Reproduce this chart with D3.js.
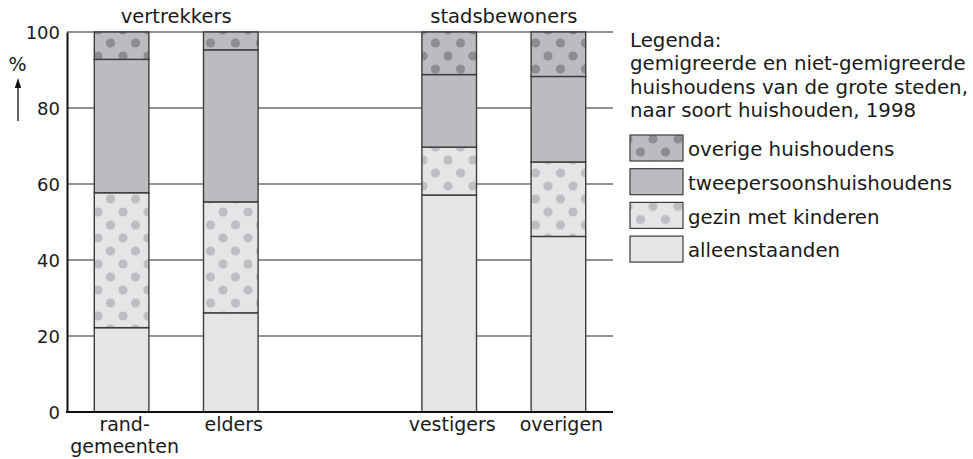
<!DOCTYPE html>
<html>
<head>
<meta charset="utf-8">
<script src="https://cdn.jsdelivr.net/npm/d3@7"></script>
<style>
  body { margin: 0; background: #fff; }
  svg { display: block; font-family: "DejaVu Sans", sans-serif; }
</style>
</head>
<body>
<div id="chart"></div>
<script>
'use strict';

// slots on the x axis; the empty one is the gap between the two groups
const slots = ['rand', 'elders', 'gap', 'vestigers', 'overigen'];
const categories = ['rand', 'elders', 'vestigers', 'overigen'];
const catLabels = [['rand-', 'gemeenten'], ['elders'], ['vestigers'], ['overigen']];

const groups = ['vertrekkers', 'stadsbewoners'];
const groupMembers = [['rand', 'elders'], ['vestigers', 'overigen']];

// percentages, bottom to top
const alleenstaanden = [22.2, 26.1, 57.1, 46.2];
const gezinMetKinderen = [35.5, 29.2, 12.6, 19.6];
const tweepersoons = [35.1, 40.0, 19.1, 22.5];
const overigeHuishoudens = [7.2, 4.7, 11.2, 11.7];

const yTicks = [0, 20, 40, 60, 80, 100];

const seriesKeys = ['alleen', 'gezin', 'twee', 'overige'];
const seriesNames = ['alleenstaanden', 'gezin met kinderen', 'tweepersoonshuishoudens', 'overige huishoudens'];
const legendTitle = ['Legenda:', 'gemigreerde en niet-gemigreerde',
  'huishoudens van de grote steden,', 'naar soort huishouden, 1998'];

const W = 973, H = 459;

const fills = {
  alleen: '#e4e5e7',
  gezin: 'url(#dotsLight)',
  twee: '#bbbcbf',
  overige: 'url(#dotsDark)'
};

const svg = d3.select('#chart').append('svg')
  .attr('width', W).attr('height', H);

// dot patterns
const defs = svg.append('defs');
function dotPattern(id, bg, dot) {
  const p = defs.append('pattern')
    .attr('id', id)
    .attr('patternUnits', 'userSpaceOnUse')
    .attr('width', 25).attr('height', 26)
    .attr('x', 98).attr('y', 4);
  p.append('rect').attr('width', 25).attr('height', 26).attr('fill', bg);
  [[0, 0], [25, 0], [0, 26], [25, 26], [12.5, 13]].forEach(c => {
    p.append('circle').attr('cx', c[0]).attr('cy', c[1]).attr('r', 4.6).attr('fill', dot);
  });
}
dotPattern('dotsLight', '#e4e5e7', '#bdbec1');
dotPattern('dotsDark', '#bbbcbf', '#8c8d90');

const x = d3.scaleBand()
  .domain(slots)
  .range([67, 613])
  .paddingInner(0.5)
  .paddingOuter(0.25);

const y = d3.scaleLinear()
  .domain([0, 100])
  .range([412, 32]);

// gridlines
svg.append('g')
  .selectAll('line')
  .data(yTicks.filter(t => t > 0))
  .enter()
  .append('line')
  .attr('x1', 67).attr('x2', 613)
  .attr('y1', d => y(d)).attr('y2', d => y(d))
  .attr('stroke', '#6f6f6f')
  .attr('stroke-width', 1.4);

// stacked bars
const rows = categories.map((c, i) => ({
  cat: c,
  alleen: alleenstaanden[i],
  gezin: gezinMetKinderen[i],
  twee: tweepersoons[i],
  overige: overigeHuishoudens[i]
}));
const stacked = d3.stack().keys(seriesKeys)(rows);

svg.append('g')
  .selectAll('g')
  .data(stacked)
  .enter()
  .append('g')
  .attr('fill', d => fills[d.key])
  .selectAll('rect')
  .data(d => d)
  .enter()
  .append('rect')
  .attr('x', d => x(d.data.cat))
  .attr('y', d => y(d[1]))
  .attr('width', x.bandwidth())
  .attr('height', d => y(d[0]) - y(d[1]))
  .attr('stroke', '#3c3c3c')
  .attr('stroke-width', 1.4);

// axes
const yAxis = d3.axisLeft(y).tickValues(yTicks).tickSize(0).tickPadding(7);
const gy = svg.append('g').attr('transform', 'translate(67,0)').call(yAxis);
gy.select('.domain').attr('stroke', '#111').attr('stroke-width', 2);
gy.selectAll('text')
  .attr('font-size', '18px')
  .attr('fill', '#1a1a1a')
  .attr('font-family', '"DejaVu Sans", sans-serif')
  .attr('dy', '0.36em');

svg.append('line')
  .attr('x1', 66).attr('x2', 613)
  .attr('y1', y(0)).attr('y2', y(0))
  .attr('stroke', '#111').attr('stroke-width', 2);

// % and arrow
svg.append('text')
  .attr('x', 17.5).attr('y', 71)
  .attr('text-anchor', 'middle')
  .attr('font-size', '19px')
  .attr('fill', '#1a1a1a')
  .text('%');
svg.append('line')
  .attr('x1', 18).attr('x2', 18)
  .attr('y1', 121).attr('y2', 86)
  .attr('stroke', '#111').attr('stroke-width', 1.3);
svg.append('path')
  .attr('d', 'M18,78 L21.2,88 L14.8,88 Z')
  .attr('fill', '#111');

// category labels
const labels = svg.append('g')
  .selectAll('text')
  .data(categories)
  .enter()
  .append('text')
  .attr('x', d => x(d) + x.bandwidth() / 2 + 3)
  .attr('y', 431)
  .attr('text-anchor', 'middle')
  .attr('font-size', '19px')
  .attr('fill', '#1a1a1a');
labels.selectAll('tspan')
  .data((d, i) => catLabels[i])
  .enter()
  .append('tspan')
  .attr('x', function() { return d3.select(this.parentNode).attr('x'); })
  .attr('dy', (d, i) => i === 0 ? 0 : 22)
  .text(d => d);

// group titles
svg.append('g')
  .selectAll('text')
  .data(groups)
  .enter()
  .append('text')
  .attr('x', (d, i) => {
    const m = groupMembers[i];
    return (x(m[0]) + x(m[1]) + x.bandwidth()) / 2;
  })
  .attr('y', 23)
  .attr('text-anchor', 'middle')
  .attr('font-size', '19.5px')
  .attr('fill', '#1a1a1a')
  .text(d => d);

// legend
const legend = svg.append('g').attr('transform', 'translate(630,0)');
legend.selectAll('text.title')
  .data(legendTitle)
  .enter()
  .append('text')
  .attr('class', 'title')
  .attr('x', 0)
  .attr('y', (d, i) => 46.5 + i * 23.5)
  .attr('font-size', '19.8px')
  .attr('fill', '#1a1a1a')
  .text(d => d);

const legendOrder = seriesKeys.slice().reverse();
const items = legend.selectAll('g.item')
  .data(legendOrder)
  .enter()
  .append('g')
  .attr('class', 'item')
  .attr('transform', (d, i) => 'translate(0,' + (135 + i * 33.7) + ')');
items.append('rect')
  .attr('x', 0).attr('y', 0)
  .attr('width', 53).attr('height', 26)
  .attr('fill', d => fills[d])
  .attr('stroke', '#3c3c3c')
  .attr('stroke-width', 1.2);
items.append('text')
  .attr('x', 58).attr('y', 14)
  .attr('dy', '0.36em')
  .attr('font-size', '19.8px')
  .attr('fill', '#1a1a1a')
  .text(d => seriesNames[seriesKeys.indexOf(d)]);
</script>
</body>
</html>
